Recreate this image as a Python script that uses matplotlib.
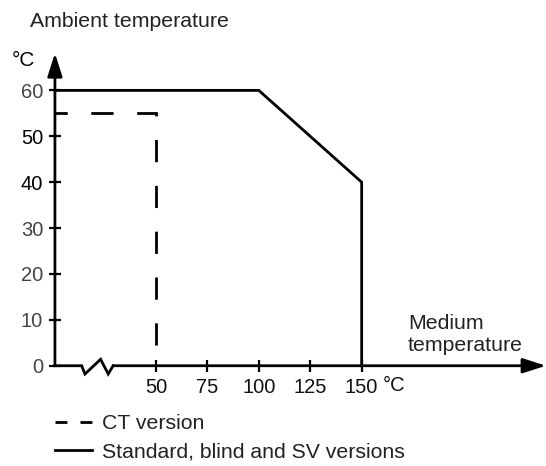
import numpy as np
import matplotlib
matplotlib.use("Agg")
import matplotlib.pyplot as plt
from matplotlib.lines import Line2D

plt.rcParams["font.family"] = ["Liberation Sans", "DejaVu Sans"]

# data
x_origin = 0.9  # where the (broken) medium temperature axis starts
standard_medium = [x_origin, 100, 150, 150]
standard_ambient = [60, 60, 40, 0]
ct_medium = [x_origin, 50, 50]
ct_ambient = [55, 55, 0]

y_ticks = [0, 10, 20, 30, 40, 50, 60]
y_tick_colors = ["#444444", "#444444", "#444444", "#444444", "#000000", "#000000", "#444444"]
x_ticks = [50, 75, 100, 125, 150]

fig = plt.figure(figsize=(5.46, 4.66), dpi=100)
ax = fig.add_axes([0, 0, 1, 1])
ax.set_xlim(-25.8, 239.6)
ax.set_ylim(-21.85, 79.7)
ax.patch.set_visible(False)

lw = 2.0
# curves
ax.plot(standard_medium, standard_ambient, color="black", lw=lw,
        solid_joinstyle="miter", clip_on=False)
ax.plot(ct_medium, ct_ambient, color="black", lw=lw,
        linestyle=(3.6, (8, 8.5)), dash_joinstyle="miter", clip_on=False)

# axes with arrows
for side in ["top", "right", "bottom", "left"]:
    ax.spines[side].set_visible(False)
ax.spines["left"].set_position(("data", x_origin))
ax.spines["bottom"].set_position(("data", 0))

head = "-|>,head_length=1.0,head_width=0.32"
ax.annotate("", xy=(x_origin, 68.1), xytext=(x_origin, 0), annotation_clip=False,
            arrowprops=dict(arrowstyle=head, mutation_scale=14, lw=lw,
                            color="black", shrinkA=0, shrinkB=0))
# axis break
ax.plot([x_origin, 13.9, 15.5, 23.1, 26.8, 29.2], [0, 0, -1.8, 1.4, -1.8, 0],
        color="black", lw=lw, solid_joinstyle="miter", clip_on=False)
ax.annotate("", xy=(239.6, 0), xytext=(29.2, 0), annotation_clip=False,
            arrowprops=dict(arrowstyle=head, mutation_scale=14, lw=lw,
                            color="black", shrinkA=0, shrinkB=0))

ax.set_yticks(y_ticks)
ax.set_yticklabels([str(v) for v in y_ticks])
for lab, c in zip(ax.get_yticklabels(), y_tick_colors):
    lab.set_color(c)
ax.set_xticks(x_ticks)
ax.set_xticklabels([str(v) for v in x_ticks], color="#111111")
ax.tick_params(axis="both", direction="inout", length=8, width=1.6,
               labelsize=14.5)
ax.tick_params(axis="y", pad=4.5)
ax.tick_params(axis="x", pad=4.5)

# texts
ax.text(160.4, -4.4, "°C", fontsize=14.5, ha="left", va="center", color="#111111")
ax.text(-20.0, 66.6, "°C", fontsize=15, ha="left", va="center")
ax.text(-11.25, 75.0, "Ambient temperature", fontsize=15.3, ha="left", va="center",
        color="#222222")
ax.text(172.5, 11.2, "Medium\ntemperature", fontsize=15.3, ha="left", va="top",
        linespacing=1.2, color="#222222")

handles = [Line2D([], [], color="black", lw=2.0, dashes=(4.3, 4.7)),
           Line2D([], [], color="black", lw=2.0)]
fig.legend(handles, ["CT version", "Standard, blind and SV versions"],
           loc="upper left", bbox_to_anchor=(55 / 546, 1 - 414 / 466),
           frameon=False, fontsize=15.3, handlelength=1.74, handletextpad=0.45,
           labelspacing=0.46, borderpad=0, borderaxespad=0, labelcolor="#222222")

fig.savefig("out.png", dpi=100)
